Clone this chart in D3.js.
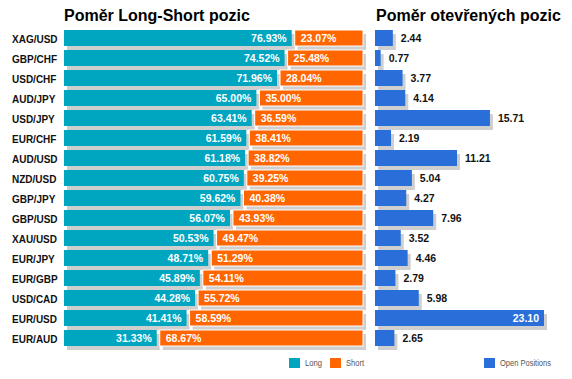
<!DOCTYPE html>
<html>
<head>
<meta charset="utf-8">
<script src="https://cdn.jsdelivr.net/npm/d3@7"></script>
<style>
  body { margin: 0; background: #fff; }
  svg { font-family: "Liberation Sans", Arial, sans-serif; }
</style>
</head>
<body>
<div id="chart"></div>
<script>
const pairs = ['XAG/USD', 'GBP/CHF', 'USD/CHF', 'AUD/JPY', 'USD/JPY', 'EUR/CHF', 'AUD/USD', 'NZD/USD',
  'GBP/JPY', 'GBP/USD', 'XAU/USD', 'EUR/JPY', 'EUR/GBP', 'USD/CAD', 'EUR/USD', 'EUR/AUD'];
const longPct = [76.93, 74.52, 71.96, 65.00, 63.41, 61.59, 61.18, 60.75, 59.62, 56.07, 50.53, 48.71, 45.89, 44.28, 41.41, 31.33];
const shortPct = [23.07, 25.48, 28.04, 35.00, 36.59, 38.41, 38.82, 39.25, 40.38, 43.93, 49.47, 51.29, 54.11, 55.72, 58.59, 68.67];
const openPos = [2.44, 0.77, 3.77, 4.14, 15.71, 2.19, 11.21, 5.04, 4.27, 7.96, 3.52, 4.46, 2.79, 5.98, 23.10, 2.65];

const W = 572, H = 379;
const cyan = '#00a6bf', orange = '#ff6600', blue = '#2a6fd9', shadow = '#cfcfcf';
const gap = 3;

const svg = d3.select('#chart')
  .append('svg')
  .attr('width', W)
  .attr('height', H);

const y = d3.scaleBand()
  .domain(pairs)
  .range([30, 346])
  .paddingInner(0.2)
  .paddingOuter(0);

// left chart: long / short ratio
const left0 = 64;
const xl = d3.scaleLinear().domain([0, 100]).range([0, 296]);

svg.append('text')
  .attr('x', left0).attr('y', 21)
  .attr('font-size', 16).attr('font-weight', 'bold')
  .text('Poměr Long-Short pozic');

const rows = pairs.map((p, i) => ({ p, l: longPct[i], s: shortPct[i], o: openPos[i] }));

const g = svg.append('g');

// shadows
g.selectAll('.sh-l').data(rows).enter().append('rect')
  .attr('x', left0 + 3).attr('y', d => y(d.p) + 4)
  .attr('width', d => xl(d.l)).attr('height', y.bandwidth())
  .attr('fill', shadow);
g.selectAll('.sh-s').data(rows).enter().append('rect')
  .attr('x', d => left0 + xl(d.l) + gap + 3).attr('y', d => y(d.p) + 4)
  .attr('width', d => xl(d.s)).attr('height', y.bandwidth())
  .attr('fill', shadow);

g.selectAll('.long').data(rows).enter().append('rect')
  .attr('x', left0).attr('y', d => y(d.p))
  .attr('width', d => xl(d.l)).attr('height', y.bandwidth())
  .attr('fill', cyan);
g.selectAll('.short').data(rows).enter().append('rect')
  .attr('x', d => left0 + xl(d.l) + gap).attr('y', d => y(d.p))
  .attr('width', d => xl(d.s)).attr('height', y.bandwidth())
  .attr('fill', orange)
  .attr('stroke', '#fff').attr('stroke-width', 1);

g.selectAll('.lab-l').data(rows).enter().append('text')
  .attr('x', d => left0 + xl(d.l) - 5).attr('y', d => y(d.p) + y.bandwidth() / 2 + 4)
  .attr('text-anchor', 'end').attr('fill', '#fff')
  .attr('font-size', 10.5).attr('font-weight', 'bold')
  .text(d => d.l.toFixed(2) + '%');
g.selectAll('.lab-s').data(rows).enter().append('text')
  .attr('x', d => left0 + xl(d.l) + gap + 6).attr('y', d => y(d.p) + y.bandwidth() / 2 + 4)
  .attr('fill', '#fff')
  .attr('font-size', 10.5).attr('font-weight', 'bold')
  .text(d => d.s.toFixed(2) + '%');

// category labels
g.selectAll('.cat').data(rows).enter().append('text')
  .attr('x', 12).attr('y', d => y(d.p) + y.bandwidth() / 2 + 4.5)
  .attr('font-size', 10).attr('font-weight', 'bold').attr('fill', '#111')
  .text(d => d.p);

// right chart: open positions
const right0 = 375;
const maxO = d3.max(openPos);
const xr = d3.scaleLinear().domain([0, maxO]).range([0, 169]);

svg.append('text')
  .attr('x', 376).attr('y', 21)
  .attr('font-size', 16).attr('font-weight', 'bold')
  .text('Poměr otevřených pozic');

const r = svg.append('g');
r.selectAll('.sh-o').data(rows).enter().append('rect')
  .attr('x', right0 + 3).attr('y', d => y(d.p) + 4)
  .attr('width', d => xr(d.o)).attr('height', y.bandwidth())
  .attr('fill', shadow);
r.selectAll('.open').data(rows).enter().append('rect')
  .attr('x', right0).attr('y', d => y(d.p))
  .attr('width', d => xr(d.o)).attr('height', y.bandwidth())
  .attr('fill', blue);
r.selectAll('.lab-o').data(rows).enter().append('text')
  .attr('x', d => d.o === maxO ? right0 + xr(d.o) - 5 : right0 + xr(d.o) + 8)
  .attr('y', d => y(d.p) + y.bandwidth() / 2 + 4)
  .attr('text-anchor', d => d.o === maxO ? 'end' : 'start')
  .attr('fill', d => d.o === maxO ? '#fff' : '#111')
  .attr('font-size', 10.5).attr('font-weight', 'bold')
  .text(d => d.o.toFixed(2));

// legends
const legend = [
  { name: 'Long', color: cyan, x: 289, w: 17 },
  { name: 'Short', color: orange, x: 330, w: 18 },
  { name: 'Open Positions', color: blue, x: 484, w: 51 }
];
const lg = svg.selectAll('.legend').data(legend).enter().append('g')
  .attr('transform', d => `translate(${d.x}, 358)`);
lg.append('rect').attr('width', 11).attr('height', 10).attr('fill', d => d.color);
lg.append('text')
  .attr('x', 16).attr('y', 8)
  .attr('font-size', 9).attr('fill', '#555')
  .attr('textLength', d => d.w).attr('lengthAdjust', 'spacingAndGlyphs')
  .text(d => d.name);
</script>
</body>
</html>
